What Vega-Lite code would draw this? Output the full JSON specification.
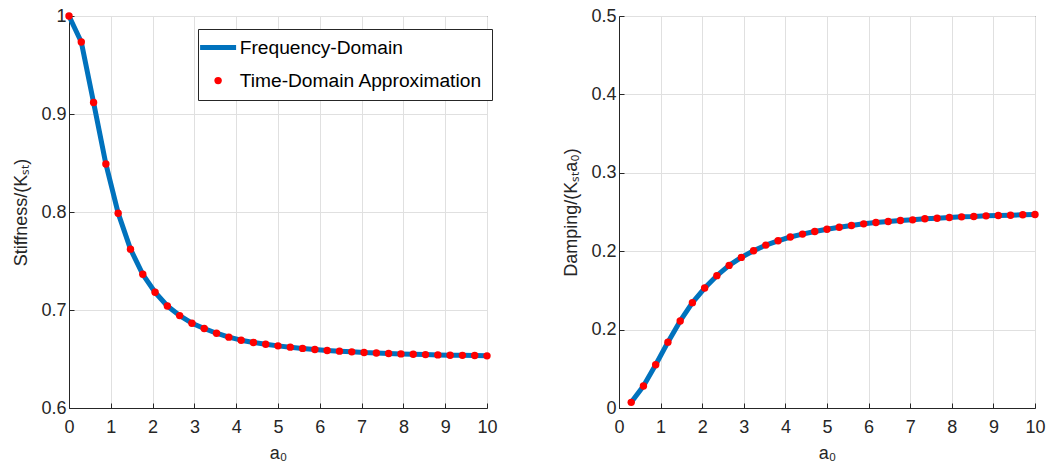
{
  "$schema": "https://vega.github.io/schema/vega-lite/v6.json",
  "background": "white",
  "padding": {"left": 12, "top": 6, "right": 8, "bottom": 0},
  "bounds": "flush",
  "spacing": 132,
  "datasets": {
    "d": [
      {"a0": 0, "k": 1.0},
      {"a0": 0.294, "k": 0.9735, "c": 0.0072},
      {"a0": 0.588, "k": 0.9117, "c": 0.028},
      {"a0": 0.882, "k": 0.849, "c": 0.0551},
      {"a0": 1.176, "k": 0.7988, "c": 0.084},
      {"a0": 1.471, "k": 0.7621, "c": 0.111},
      {"a0": 1.765, "k": 0.7364, "c": 0.1344},
      {"a0": 2.059, "k": 0.7181, "c": 0.153},
      {"a0": 2.353, "k": 0.7041, "c": 0.1688},
      {"a0": 2.647, "k": 0.6943, "c": 0.1819},
      {"a0": 2.941, "k": 0.6865, "c": 0.1921},
      {"a0": 3.235, "k": 0.6811, "c": 0.2006},
      {"a0": 3.529, "k": 0.6763, "c": 0.2078},
      {"a0": 3.824, "k": 0.6723, "c": 0.2133},
      {"a0": 4.118, "k": 0.6692, "c": 0.2181},
      {"a0": 4.412, "k": 0.6669, "c": 0.2218},
      {"a0": 4.706, "k": 0.6651, "c": 0.2251},
      {"a0": 5.0, "k": 0.6634, "c": 0.2281},
      {"a0": 5.294, "k": 0.6621, "c": 0.2306},
      {"a0": 5.588, "k": 0.6608, "c": 0.2328},
      {"a0": 5.882, "k": 0.6597, "c": 0.2349},
      {"a0": 6.176, "k": 0.6587, "c": 0.2366},
      {"a0": 6.471, "k": 0.658, "c": 0.2379},
      {"a0": 6.765, "k": 0.6573, "c": 0.2391},
      {"a0": 7.059, "k": 0.6566, "c": 0.24},
      {"a0": 7.353, "k": 0.6562, "c": 0.2413},
      {"a0": 7.647, "k": 0.6556, "c": 0.2421},
      {"a0": 7.941, "k": 0.6552, "c": 0.243},
      {"a0": 8.235, "k": 0.6549, "c": 0.2438},
      {"a0": 8.529, "k": 0.6545, "c": 0.2442},
      {"a0": 8.824, "k": 0.6542, "c": 0.2451},
      {"a0": 9.118, "k": 0.6539, "c": 0.2455},
      {"a0": 9.412, "k": 0.6537, "c": 0.2459},
      {"a0": 9.706, "k": 0.6535, "c": 0.2464},
      {"a0": 10, "k": 0.6532, "c": 0.2468}
    ]
  },
  "config": {
    "font": "Liberation Sans",
    "view": {"stroke": "#262626", "strokeWidth": 1},
    "axis": {
      "domainColor": "#262626",
      "tickColor": "#262626",
      "labelColor": "#262626",
      "titleColor": "#262626",
      "labelFontSize": 18,
      "titleFontSize": 18,
      "titleFontWeight": "normal",
      "gridColor": "#e0e0e0",
      "gridWidth": 1,
      "tickSize": -5,
      "labelFlush": false,
      "labelOverlap": false
    },
    "axisX": {"labelPadding": 15, "titlePadding": 8},
    "axisY": {"labelPadding": 8, "titlePadding": 10},
    "legend": {
      "strokeColor": "#262626",
      "fillColor": "white",
      "padding": 9,
      "labelFontSize": 19.2,
      "labelColor": "black",
      "symbolSize": 1296,
      "symbolOffset": 1.5,
      "labelOffset": 12,
      "rowPadding": 13,
      "labelLimit": 0
    }
  },
  "hconcat": [
    {
      "width": 418,
      "height": 392,
      "data": {"name": "d"},
      "encoding": {
        "x": {"field": "a0", "type": "quantitative", "scale": {"domain": [0, 10], "nice": false},
              "axis": {"title": "a₀", "values": [0,1,2,3,4,5,6,7,8,9,10], "grid": true}},
        "y": {"field": "k", "type": "quantitative", "scale": {"domain": [0.6, 1], "nice": false, "zero": false},
              "axis": {"title": "Stiffness/(Kₛₜ)", "values": [0.6, 0.7, 0.8, 0.9, 1], "labelExpr": "datum.value > 0.99 ? '1' : format(datum.value, '.1f')", "grid": true}}
      },
      "layer": [
        {
          "mark": {"type": "line", "strokeWidth": 5, "strokeJoin": "round", "strokeCap": "butt"},
          "encoding": {
            "color": {"datum": "Frequency-Domain", "type": "nominal",
              "scale": {"domain": ["Frequency-Domain", "Time-Domain Approximation"], "range": ["#0072BD", "#FF0000"]},
              "legend": {
                "title": null,
                "orient": "none",
                "legendX": 129,
                "legendY": 13,
                "encode": {
                  "symbols": {
                    "update": {
                      "shape": {"signal": "datum.value === 'Frequency-Domain' ? 'stroke' : 'circle'"},
                      "size": {"signal": "datum.value === 'Frequency-Domain' ? 1296 : 55"},
                      "strokeWidth": {"signal": "datum.value === 'Frequency-Domain' ? 5 : 0"},
                      "stroke": {"signal": "datum.value === 'Frequency-Domain' ? '#0072BD' : '#FF0000'"},
                      "fill": {"signal": "datum.value === 'Frequency-Domain' ? 'transparent' : '#FF0000'"},
                      "opacity": {"value": 1},
                      "fillOpacity": {"value": 1},
                      "strokeOpacity": {"value": 1}
                    }
                  }
                }
              }
            }
          }
        },
        {
          "mark": {"type": "point", "filled": true, "size": 55, "opacity": 1},
          "encoding": {
            "color": {"datum": "Time-Domain Approximation", "type": "nominal"}
          }
        }
      ]
    },
    {
      "width": 416,
      "height": 392,
      "data": {"name": "d"},
      "transform": [{"filter": "isValid(datum.c)"}],
      "encoding": {
        "x": {"field": "a0", "type": "quantitative", "scale": {"domain": [0, 10], "nice": false},
              "axis": {"title": "a₀", "values": [0,1,2,3,4,5,6,7,8,9,10], "grid": true}},
        "y": {"field": "c", "type": "quantitative", "scale": {"domain": [0, 0.5], "nice": false},
              "axis": {"title": "Damping/(Kₛₜa₀)", "values": [0, 0.1, 0.2, 0.3, 0.4, 0.5], "labelExpr": "datum.value < 0.01 ? '0' : (abs(datum.value - 0.1) < 0.01 ? '0.2' : format(datum.value, '.1f'))", "grid": true}}
      },
      "layer": [
        {
          "mark": {"type": "line", "strokeWidth": 5, "strokeJoin": "round", "color": "#0072BD"},
          "encoding": {}
        },
        {
          "mark": {"type": "point", "filled": true, "size": 55, "opacity": 1, "color": "#FF0000"},
          "encoding": {}
        }
      ]
    }
  ]
}
